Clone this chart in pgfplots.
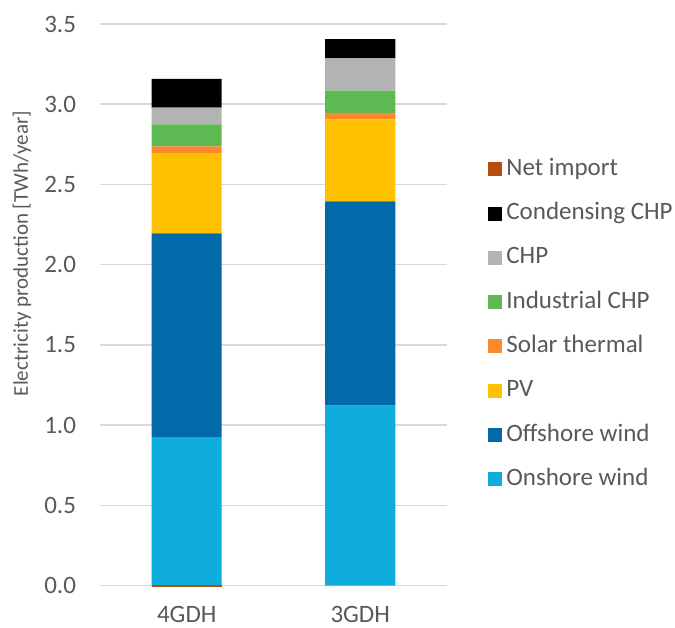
\documentclass[border=0pt]{standalone}
\usepackage{pgfplots}
\pgfplotsset{compat=1.18}
\usepackage{fontspec}
\setmainfont{Carlito}

\definecolor{onshore}{HTML}{0EADDE}
\definecolor{offshore}{HTML}{026AA8}
\definecolor{pv}{HTML}{FFC000}
\definecolor{solar}{HTML}{FB8A2C}
\definecolor{indchp}{HTML}{5DB951}
\definecolor{chp}{HTML}{B3B3B3}
\definecolor{condchp}{HTML}{000000}
\definecolor{netimp}{HTML}{B84B0E}
\definecolor{textc}{HTML}{595959}
\definecolor{gridc}{HTML}{D9D9D9}

\pgfplotsset{
  sq/.style={fill=#1, draw=none,
    legend image code/.code={\fill[#1] (-1.5pt,-3.5pt) rectangle (5.5pt,3.5pt);}},
  common/.style={
    scale only axis, width=173.5pt, height=280.75pt,
    at={(0,0)}, anchor=south west,
    xmin=-0.5, xmax=1.5, ymin=0, ymax=3.5,
    bar width=35pt,
  },
}

\begin{document}
\begin{tikzpicture}
\useasboundingbox (-50pt,-20.75pt) rectangle (287.5pt,292.75pt);
\begin{axis}[
  common,
  ybar stacked,
  xtick={0,1}, xticklabels={4GDH,3GDH},
  ytick={0,0.5,1,1.5,2,2.5,3,3.5},
  yticklabel style={/pgf/number format/fixed, /pgf/number format/fixed zerofill,
    /pgf/number format/precision=1},
  /pgf/number format/assume math mode=true,
  ymajorgrids, grid style={draw=gridc, line width=0.75pt},
  axis line style={draw=none},
  major tick length=0pt,
  tick label style={font=\fontsize{12.5}{14}\selectfont, text=textc},
  xticklabel style={yshift=-7pt},
  yticklabel style={xshift=-8.5pt},
  every axis y label/.style={at={(axis description cs:-0.2248,0.591)},
    rotate=90, anchor=center, font=\fontsize{10.5}{12}\selectfont, text=textc},
  ylabel={Electricity production [TWh/year]},
  reverse legend,
  legend cell align=left,
  legend style={draw=none, fill=none, inner sep=0pt,
    at={(axis description cs:1.1181,0.7705)}, anchor=north west,
    font=\fontsize{12.5}{14}\selectfont, text=textc,
    nodes={text height=9pt, text depth=3pt, inner sep=2pt},
    row sep=6.15pt},
]
\addplot[sq=onshore]  coordinates {(0,0.925) (1,1.122)};
\addplot[sq=offshore] coordinates {(0,1.270) (1,1.272)};
\addplot[sq=pv]       coordinates {(0,0.500) (1,0.511)};
\addplot[sq=solar]    coordinates {(0,0.042) (1,0.041)};
\addplot[sq=indchp]   coordinates {(0,0.137) (1,0.139)};
\addplot[sq=chp]      coordinates {(0,0.104) (1,0.200)};
\addplot[sq=condchp]  coordinates {(0,0.180) (1,0.121)};
\addlegendimage{sq=netimp}
\legend{Onshore wind, Offshore wind, PV, Solar thermal, Industrial CHP, CHP, Condensing CHP, Net import}
\end{axis}
% net import is negative, so it is drawn apart from the stack
\begin{axis}[
  common,
  ybar, clip=false,
  axis lines=none,
]
\addplot[fill=netimp, draw=none] coordinates {(0,-0.012)};
\end{axis}
\end{tikzpicture}
\end{document}
